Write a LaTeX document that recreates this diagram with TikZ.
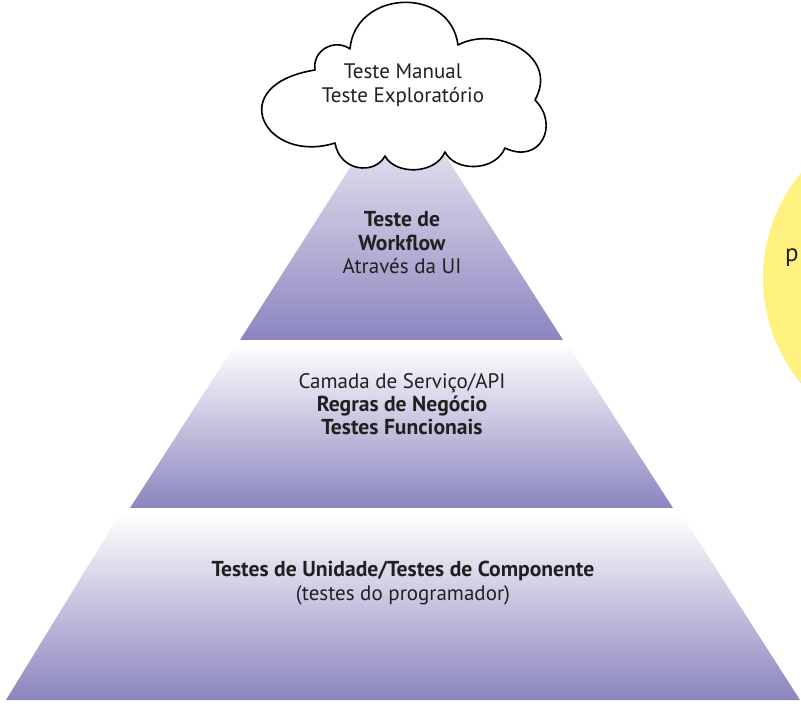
\documentclass[tikz,border=0pt]{standalone}
\usepackage{fontspec}
\setmainfont{PT Sans}
\definecolor{pyrbot}{RGB}{139,133,191}
\definecolor{pyrtop}{RGB}{252,252,253}
\definecolor{txt}{RGB}{35,31,32}
\definecolor{sun}{RGB}{255,242,128}
\tikzset{
  layer/.style={top color=pyrtop, bottom color=pyrbot, draw=none},
  lbl/.style={anchor=base, inner sep=0pt, text=txt, font=\fontsize{21}{25}\selectfont},
  blbl/.style={lbl, font=\fontsize{21.6}{25}\selectfont\bfseries},
  cloudline/.style={draw=black, line width=1.6pt, fill=white, line join=round}
}
\begin{document}
\begin{tikzpicture}[x=1pt, y=-1pt]
\clip (0,0) rectangle (801,708);
\fill[white] (0,0) rectangle (801,708);
% yellow circle at the right
\fill[black!25] (928.5,280) circle (164);
\fill[sun] (927,278) circle (164);
\node[lbl, font=\fontsize{25}{30}\selectfont] (sunp) at (792,262) {p};
% pyramid layers
\shade[layer] (6,700) -- (800,700) -- (683,517) -- (118,517) -- cycle;
\shade[layer] (130,508) -- (673,508) -- (570,348) -- (233,348) -- cycle;
\shade[layer] (240,340) -- (563,340) -- (401.5,87) -- cycle;
% cloud
\path[cloudline] (315,70) .. controls (312,50) and (335,38) .. (350,49)
  .. controls (355,-10) and (450,-15) .. (458,45)
  .. controls (495,25) and (560,55) .. (535,100)
  .. controls (560,125) and (540,165) .. (505,148)
  .. controls (495,172) and (455,172) .. (445,152)
  .. controls (435,175) and (395,175) .. (385,156)
  .. controls (375,175) and (340,172) .. (335,143)
  .. controls (265,165) and (222,85) .. (315,70) -- cycle;
% texts
\node[lbl] (c1) at (403,79) {Teste Manual};
\node[lbl] (c2) at (403,103) {Teste Exploratório};
\node[blbl] (t1) at (402,227) {Teste de};
\node[blbl] (t2) at (402,251) {Workflow};
\node[lbl] (t3) at (402,274) {Através da UI};
\node[lbl] (m1) at (402,389) {Camada de Serviço/API};
\node[blbl] (m2) at (402,412) {Regras de Negócio};
\node[blbl] (m3) at (402,435) {Testes Funcionais};
\node[blbl] (b1) at (403,576) {Testes de Unidade/Testes de Componente};
\node[lbl] (b2) at (403,600) {(testes do programador)};
\end{tikzpicture}
\end{document}
